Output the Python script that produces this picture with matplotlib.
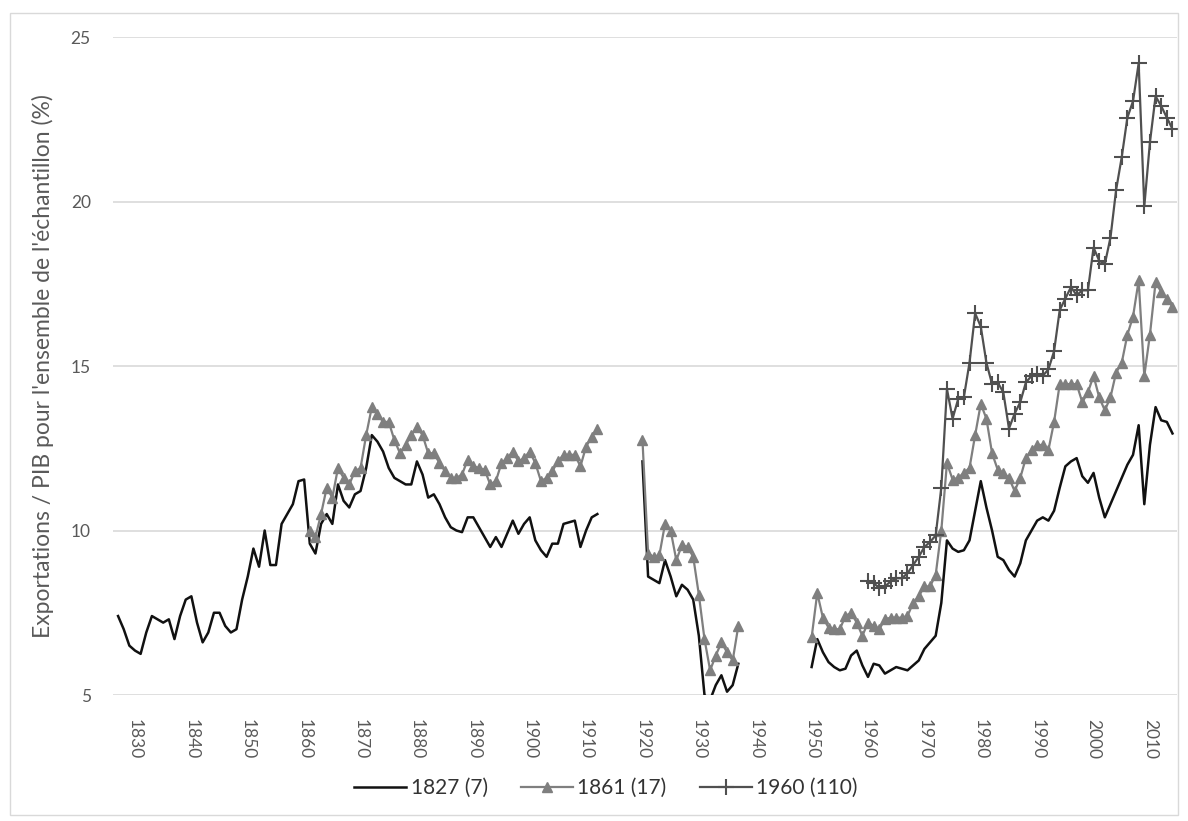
import numpy as np
import matplotlib
matplotlib.use("Agg")
import matplotlib.pyplot as plt
from matplotlib.patches import Rectangle

plt.rcParams['font.family'] = ['Lato', 'DejaVu Sans']

# ---- data ----
years_a_1827 = list(range(1827, 1913))
s1827_a = [7.4, 7.0, 6.5, 6.35, 6.25, 6.9, 7.4, 7.3, 7.2, 7.3,
           6.7, 7.4, 7.9, 8.0, 7.2, 6.6, 6.9, 7.5, 7.5, 7.1,
           6.9, 7.0, 7.9, 8.6, 9.45, 8.9, 10.0, 8.95, 8.95, 10.2,
           10.5, 10.8, 11.5, 11.55, 9.6, 9.3, 10.2, 10.5, 10.2, 11.4,
           10.9, 10.7, 11.1, 11.2, 11.9, 12.9, 12.7, 12.4, 11.9, 11.6,
           11.5, 11.4, 11.4, 12.1, 11.7, 11.0, 11.1, 10.8, 10.4, 10.1,
           10.0, 9.95, 10.4, 10.4, 10.1, 9.8, 9.5, 9.8, 9.5, 9.9,
           10.3, 9.9, 10.2, 10.4, 9.7, 9.4, 9.2, 9.6, 9.6, 10.2,
           10.25, 10.3, 9.5, 10.0, 10.4, 10.5]
years_a_1861 = list(range(1861, 1913))
s1861_a = [10.0, 9.8, 10.5, 11.3, 11.0, 11.9, 11.6, 11.4, 11.8, 11.9,
           12.9, 13.75, 13.55, 13.3, 13.3, 12.75, 12.35, 12.6, 12.9, 13.15,
           12.9, 12.35, 12.35, 12.05, 11.8, 11.6, 11.6, 11.7, 12.15, 11.95,
           11.9, 11.85, 11.4, 11.5, 12.05, 12.2, 12.4, 12.1, 12.2, 12.4,
           12.05, 11.5, 11.6, 11.8, 12.1, 12.3, 12.3, 12.3, 11.95, 12.55,
           12.85, 13.1]

years_b = list(range(1920, 1938))
s1827_b = [12.1, 8.6, 8.5, 8.4, 9.1, 8.6, 8.0, 8.35, 8.2, 7.9,
           6.8, 5.0, 4.85, 5.3, 5.6, 5.1, 5.3, 5.95]
s1861_b = [12.75, 9.3, 9.2, 9.25, 10.2, 10.0, 9.1, 9.55, 9.5, 9.2,
           8.05, 6.7, 5.75, 6.2, 6.6, 6.3, 6.05, 7.1]

years_c = list(range(1950, 2015))
s1827_c = [5.85, 6.7, 6.3, 6.0, 5.85, 5.75, 5.8, 6.2, 6.35, 5.9,
           5.55, 5.95, 5.9, 5.65, 5.75, 5.85, 5.8, 5.75, 5.9, 6.05,
           6.4, 6.6, 6.8, 7.8, 9.7, 9.45, 9.35, 9.4, 9.7, 10.6,
           11.5, 10.7, 10.0, 9.2, 9.1, 8.8, 8.6, 9.0, 9.7, 10.0,
           10.3, 10.4, 10.3, 10.6, 11.3, 11.95, 12.1, 12.2, 11.65, 11.45,
           11.75, 11.0, 10.4, 10.8, 11.2, 11.6, 12.0, 12.3, 13.2, 10.8,
           12.6, 13.75, 13.35, 13.3, 12.95]
s1861_c = [6.75, 8.1, 7.35, 7.05, 7.0, 7.0, 7.4, 7.5, 7.2, 6.8,
           7.2, 7.1, 7.0, 7.3, 7.35, 7.35, 7.35, 7.4, 7.8, 8.0,
           8.3, 8.3, 8.65, 10.0, 12.05, 11.55, 11.6, 11.75, 11.9, 12.9,
           13.85, 13.4, 12.35, 11.85, 11.75, 11.6, 11.2, 11.6, 12.2, 12.45,
           12.6, 12.6, 12.45, 13.3, 14.45, 14.45, 14.45, 14.45, 13.9, 14.2,
           14.7, 14.05, 13.65, 14.05, 14.8, 15.1, 15.95, 16.5, 17.6, 14.7,
           15.95, 17.55, 17.25, 17.05, 16.8]
years_1960 = list(range(1960, 2015))
s1960 = [8.45, 8.4, 8.25, 8.3, 8.45, 8.55, 8.55, 8.7, 8.95, 9.2,
         9.5, 9.65, 9.85, 11.3, 14.3, 13.4, 14.0, 14.05, 15.1, 16.6,
         16.2, 15.1, 14.45, 14.5, 14.2, 13.1, 13.55, 13.9, 14.5, 14.7,
         14.75, 14.7, 14.9, 15.45, 16.7, 17.05, 17.4, 17.15, 17.3, 17.3,
         18.6, 18.2, 18.1, 18.9, 20.35, 21.35, 22.55, 23.05, 24.2, 19.85,
         21.8, 23.2, 22.9, 22.55, 22.2]

labels = ["1827 (7)", "1861 (17)", "1960 (110)"]
tick_years = list(range(1830, 2011, 10))
y_ticks = [5, 10, 15, 20, 25]

# ---- figure ----
W, H = 1188, 821
fig = plt.figure(figsize=(W / 100, H / 100), dpi=100)
ax = fig.add_axes([113 / W, 1 - 695 / H, (1177 - 113) / W, (695 - 37) / H])

# outer chart border
fig.patches.append(Rectangle((10 / W, 1 - 815 / H), (1178 - 10) / W, (815 - 13) / H,
                             transform=fig.transFigure, fill=False,
                             edgecolor='#d9d9d9', linewidth=1.0))

c_black = '#111111'
c_tri = '#7f7f7f'
c_plus = '#505050'

black_style = dict(color=c_black, lw=1.8, zorder=3)
tri_style = dict(color=c_tri, lw=1.6, marker='^', markersize=7.5,
                 markerfacecolor=c_tri, markeredgecolor=c_tri, zorder=4)
plus_style = dict(color=c_plus, lw=1.6, marker='+', markersize=11,
                  markeredgewidth=1.5, zorder=5)

ax.plot(years_a_1827, s1827_a, label=labels[0], **black_style)
ax.plot(years_b, s1827_b, **black_style)
ax.plot(years_c, s1827_c, **black_style)

ax.plot(years_a_1861, s1861_a, label=labels[1], **tri_style)
ax.plot(years_b, s1861_b, **tri_style)
ax.plot(years_c, s1861_c, **tri_style)

ax.plot(years_1960, s1960, label=labels[2], **plus_style)

ax.set_xlim(1826.1, 2014.8)
ax.set_ylim(5, 25)
ax.set_yticks(y_ticks)
ax.set_xticks(tick_years)
ax.set_xticklabels([str(t) for t in tick_years], rotation=270)
ax.tick_params(axis='both', length=0, labelsize=12.5, labelcolor='#595959')
ax.tick_params(axis='x', pad=17)
ax.tick_params(axis='y', pad=16)
ax.grid(axis='y', color='#d9d9d9', lw=1.2)
ax.set_axisbelow(True)
for s in ax.spines.values():
    s.set_visible(False)

ax.set_ylabel("Exportations / PIB pour l'ensemble de l'échantillon (%)",
              fontsize=16.5, color='#595959', labelpad=12)

fig.legend(loc='center', bbox_to_anchor=(606 / W, 1 - 788 / H), ncol=3,
           frameon=False, fontsize=15, handlelength=2.5, columnspacing=1.6,
           handletextpad=0.2, labelcolor='#333333')

fig.savefig("out.png", dpi=100)
